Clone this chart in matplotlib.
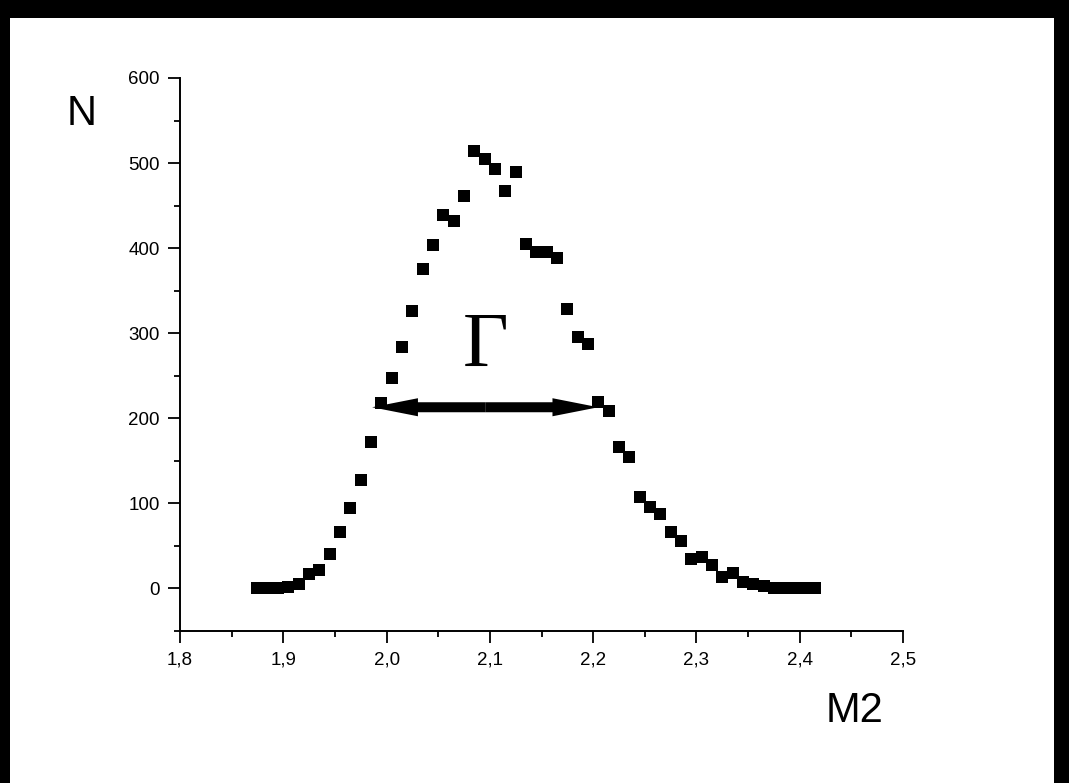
import matplotlib
matplotlib.use("Agg")
import matplotlib.pyplot as plt
from matplotlib.patches import Rectangle
from matplotlib.ticker import FixedLocator, MultipleLocator

# Invariant-mass spectrum: bin centres and counts
m2 = [round(1.875 + 0.01 * i, 3) for i in range(55)]
counts = [0, 0, 0, 2, 5, 17, 22, 41, 66, 95,
          127, 172, 218, 247, 284, 326, 375, 404, 439, 432,
          461, 514, 505, 493, 467, 489, 405, 396, 395, 388,
          329, 295, 287, 219, 209, 166, 155, 108, 96, 87,
          66, 56, 35, 37, 27, 14, 18, 8, 5, 3,
          0, 0, 0, 1, 0]

x_ticks = [1.8, 1.9, 2.0, 2.1, 2.2, 2.3, 2.4, 2.5]
x_tick_labels = ["1,8", "1,9", "2,0", "2,1", "2,2", "2,3", "2,4", "2,5"]
y_ticks = [0, 100, 200, 300, 400, 500, 600]
y_tick_labels = ["0", "100", "200", "300", "400", "500", "600"]

# Width marker (left edge, right edge, level)
width_left, width_right, width_level = 1.986, 2.205, 213

W, H = 1069, 783
fig = plt.figure(figsize=(W / 100, H / 100), dpi=100)
fig.patch.set_facecolor("white")

ax = fig.add_axes([180 / W, 1 - 631 / H, (903 - 180) / W, (631 - 78) / H])
ax.set_xlim(1.8, 2.5)
ax.set_ylim(-50, 600)

ax.plot(m2, counts, linestyle="none", marker="s", markersize=8,
        color="black", markeredgewidth=0)

for side in ("top", "right"):
    ax.spines[side].set_visible(False)
for side in ("left", "bottom"):
    ax.spines[side].set_linewidth(1.4)
    ax.spines[side].set_color("black")

ax.xaxis.set_major_locator(FixedLocator(x_ticks))
ax.set_xticklabels(x_tick_labels)
ax.xaxis.set_minor_locator(MultipleLocator(0.05))
ax.yaxis.set_major_locator(FixedLocator(y_ticks))
ax.set_yticklabels(y_tick_labels)
ax.yaxis.set_minor_locator(MultipleLocator(50))

ax.tick_params(which="major", direction="out", length=8.5, width=1.3,
               color="black", labelsize=13.5, pad=6)
ax.tick_params(which="minor", direction="out", length=4.5, width=1.3,
               color="black")
for lab in ax.get_xticklabels() + ax.get_yticklabels():
    lab.set_fontfamily(["Liberation Sans", "DejaVu Sans"])

# Double-headed arrow showing the width
mid = (width_left + width_right) / 2
style = "simple,head_length=1.65,head_width=0.65,tail_width=0.36"
for end in (width_left, width_right):
    ax.annotate("", xy=(end, width_level), xytext=(mid, width_level),
                arrowprops=dict(arrowstyle=style, mutation_scale=20,
                                color="black", lw=0,
                                shrinkA=0, shrinkB=0))

ax.text(2.096, 262, "Γ", ha="center", va="baseline", fontsize=57,
        family=["Liberation Serif", "DejaVu Serif"], color="black")

fig.text(67 / W, 1 - 125 / H, "N", ha="left", va="baseline", fontsize=30,
         family=["Liberation Sans", "DejaVu Sans"], color="black")
fig.text(826 / W, 1 - 722 / H, "M2", ha="left", va="baseline", fontsize=30,
         family=["Liberation Sans", "DejaVu Sans"], color="black")

# Dark frame along the top, left and right edges
for rect in [(0, 1 - 18 / H, 1, 18 / H),
             (0, 0, 10 / W, 1),
             (1 - 15 / W, 0, 15 / W, 1)]:
    fig.add_artist(Rectangle(rect[:2], rect[2], rect[3],
                             transform=fig.transFigure,
                             facecolor="black", edgecolor="none"))

fig.savefig("out.png", dpi=100)
